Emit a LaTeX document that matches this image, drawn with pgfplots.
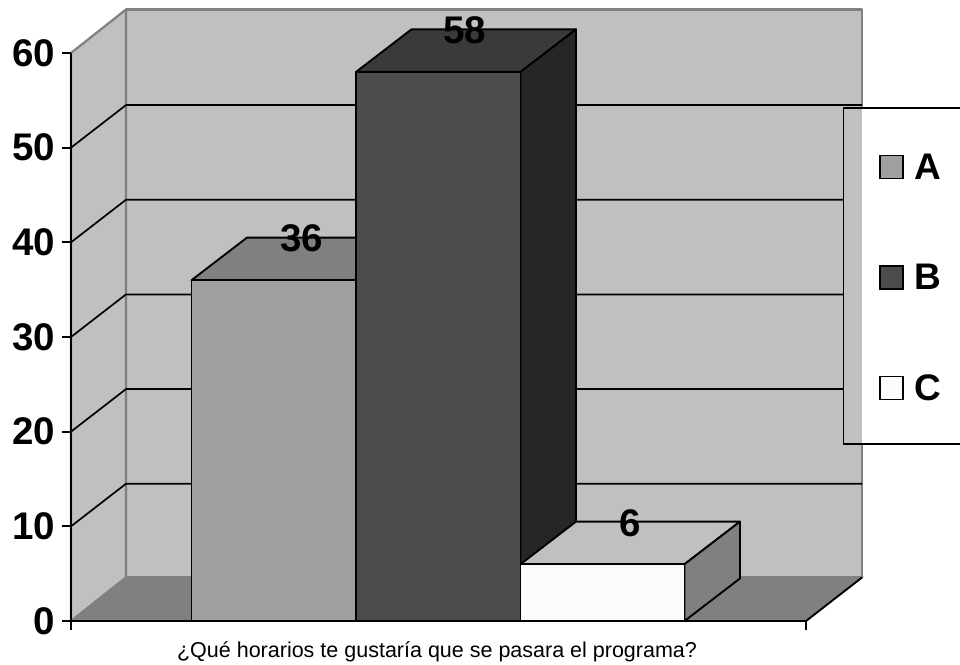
\documentclass[border=0pt]{standalone}
\usepackage{fontspec}
\setmainfont{Liberation Sans}
\usepackage{pgfplots}
\pgfplotsset{compat=1.18}
\definecolor{wall}{HTML}{C0C0C0}
\definecolor{floorc}{HTML}{808080}
\definecolor{afront}{HTML}{A0A0A0}
\definecolor{bfront}{HTML}{4C4C4C}
\definecolor{btop}{HTML}{3A3A3A}
\definecolor{bside}{HTML}{262626}
\definecolor{cfront}{HTML}{FCFCFC}
\newcommand{\bigbold}{\fontsize{38.5}{42}\selectfont\bfseries}
\newcommand{\legbold}{\fontsize{37}{41}\selectfont\bfseries}
\pgfplotsset{
  face/.style={draw=black,line width=1.9pt,line join=round,forget plot},
  wallp/.style={draw=floorc,line width=2.2pt,fill=wall,line join=round,forget plot},
  gridl/.style={draw=black,line width=1.7pt,forget plot},
}
\begin{document}
\begin{tikzpicture}
\useasboundingbox (-71pt,-43pt) rectangle (889pt,621pt);
\begin{axis}[
  at={(0,0)},anchor=south west,
  scale only axis,width=735pt,height=568pt,
  xmin=71,xmax=806,ymin=0,ymax=60,clip=false,
  axis y line*=left,axis x line*=bottom,axis line style={-,line width=1.9pt},
  axis on top,
  xtick={71,806},xticklabels={,},
  ytick={0,10,20,30,40,50,60},
  tick align=outside,major tick length=8.5pt,
  tick style={black,line width=1.7pt},
  /pgf/number format/assume math mode=true,
  yticklabel style={font=\bigbold,inner sep=0pt,xshift=-7pt},
  xlabel={¿Qué horarios te gustaría que se pasara el programa?},
  xlabel style={font=\fontsize{21.5}{25}\selectfont,at={(axis description cs:0.498,-0.054)},anchor=center},
  legend style={draw=none,fill=none,at={(axis cs:879,49.6)},anchor=north west,inner sep=0pt,
    font=\legbold,row sep=79.5pt},
  legend cell align=left,
  legend image code/.code={\draw[#1] (0pt,-11.5pt) rectangle (23pt,11.5pt);\path (32pt,0pt);},
]
% walls and floor
\addplot[wallp] coordinates {(126,4.6)(126,64.6)(862,64.6)(862,4.6)} -- cycle;
\addplot[wallp] coordinates {(71,0)(71,60)(126,64.6)(126,4.6)} -- cycle;
\addplot[fill=floorc,draw=floorc,line width=1.5pt,forget plot] coordinates {(71,0)(126,4.6)(862,4.6)(806,0)} -- cycle;
\addplot[draw=black,line width=1.9pt,forget plot] coordinates {(806,0)(862,4.6)};
% gridlines
\addplot[gridl] coordinates {(71,10)(126,14.5)(862,14.5)};
\addplot[gridl] coordinates {(71,20)(126,24.5)(862,24.5)};
\addplot[gridl] coordinates {(71,30)(126,34.5)(862,34.5)};
\addplot[gridl] coordinates {(71,40)(126,44.5)(862,44.5)};
\addplot[gridl] coordinates {(71,50)(126,54.5)(862,54.5)};
% A = 36
\addplot[face,fill=floorc] coordinates {(191.5,36)(247,40.5)(411.5,40.5)(356,36)} -- cycle;
\addplot[face,fill=afront] coordinates {(191.5,0)(191.5,36)(356,36)(356,0)} -- cycle;
% B = 58
\addplot[face,fill=btop] coordinates {(356,58)(411.5,62.5)(576,62.5)(520.5,58)} -- cycle;
\addplot[face,fill=bside] coordinates {(520.5,0)(576,4.5)(576,62.5)(520.5,58)} -- cycle;
\addplot[face,fill=bfront] coordinates {(356,0)(356,58)(520.5,58)(520.5,0)} -- cycle;
% C = 6
\addplot[face,fill=wall] coordinates {(520.5,6)(576,10.5)(740,10.5)(684.5,6)} -- cycle;
\addplot[face,fill=floorc] coordinates {(684.5,0)(740,4.5)(740,10.5)(684.5,6)} -- cycle;
\addplot[face,fill=cfront] coordinates {(520.5,0)(520.5,6)(684.5,6)(684.5,0)} -- cycle;
% data labels
\addplot[draw=none,forget plot,nodes near coords,point meta=explicit symbolic,
  every node near coord/.append style={font=\bigbold,anchor=center,text=black,inner sep=0pt}]
  coordinates {(301.5,40.4)[36] (465,62.4)[58] (630,10.3)[6]};
% legend box
\addplot[fill=white,draw=none,forget plot] coordinates {(843.5,54.2)(843.5,18.7)(965,18.7)(965,54.2)} -- cycle;
\addplot[fill=wall,draw=none,forget plot] coordinates {(843.5,54.2)(843.5,18.7)(862,18.7)(862,54.2)} -- cycle;
\addplot[draw=black,line width=1.9pt,forget plot] coordinates {(965,54.2)(843.5,54.2)(843.5,18.7)(965,18.7)};
\addlegendimage{draw=black,line width=1.5pt,fill=afront}
\addlegendentry{A}
\addlegendimage{draw=black,line width=1.5pt,fill=bfront}
\addlegendentry{B}
\addlegendimage{draw=black,line width=1.5pt,fill=cfront}
\addlegendentry{C}
\end{axis}
\end{tikzpicture}
\end{document}
